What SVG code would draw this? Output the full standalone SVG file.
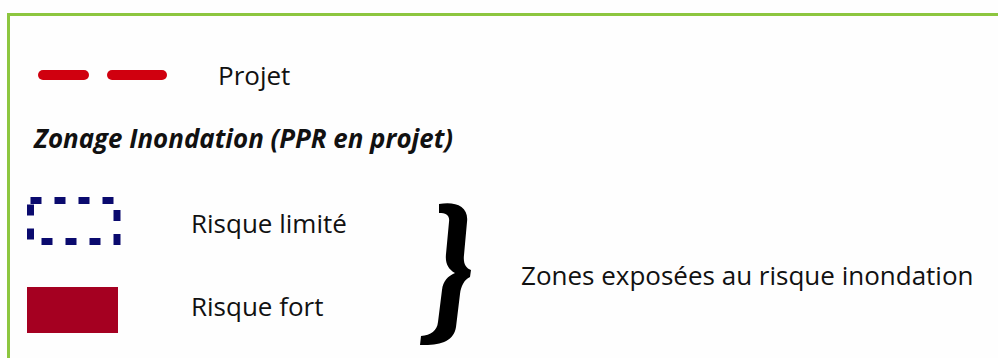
<svg xmlns="http://www.w3.org/2000/svg" width="998" height="358" viewBox="0 0 998 358">
  <style>
    .lbl { font-family: "Open Sans", "Noto Sans", "Liberation Sans", sans-serif; font-size: 26px; fill: #111; }
    .title { font-family: "Open Sans", "Noto Sans", "Liberation Sans", sans-serif; font-size: 25.9px; font-weight: bold; font-style: italic; fill: #111; }
  </style>
  <rect x="0" y="0" width="998" height="358" fill="#fefefe"/>
  <g id="frame">
    <path d="M 8.5 358 L 8.5 14.5 L 998 14.5" fill="none" stroke="#8dc63f" stroke-width="3"/>
  </g>
  <g id="projet">
    <line x1="43" y1="75" x2="84" y2="75" stroke="#d0000f" stroke-width="10" stroke-linecap="round"/>
    <line x1="112" y1="75" x2="162" y2="75" stroke="#d0000f" stroke-width="10" stroke-linecap="round"/>
    <text class="lbl" x="218" y="85">Projet</text>
  </g>
  <g id="titre">
    <text class="title" x="34" y="148">Zonage Inondation (PPR en projet)</text>
  </g>
  <g id="risque-limite">
    <rect x="30.5" y="200.5" width="86.5" height="41" fill="none" stroke="#0a0a6e" stroke-width="7" stroke-dasharray="11 13"/>
    <text class="lbl" x="191" y="233">Risque limité</text>
  </g>
  <g id="risque-fort">
    <rect x="27" y="287" width="91" height="46" fill="#a50021"/>
    <text class="lbl" x="191" y="316">Risque fort</text>
  </g>
  <g id="accolade">
    <path d="M 439 204 C 455 201 469 206 467 222 L 464 255 C 463 264 466 268 471 270 L 470 277 C 464 280 461 286 460 294 L 456 327 C 454 341 440 346 420 345 L 421 336 C 431 335 437 331 438 322 L 442 290 C 443 281 448 276 455 273 C 448 269 445 263 446 254 L 449 222 C 450 215 446 213 439 213 Z" fill="#000"/>
    <text class="lbl" x="521" y="285">Zones exposées au risque inondation</text>
  </g>
</svg>
